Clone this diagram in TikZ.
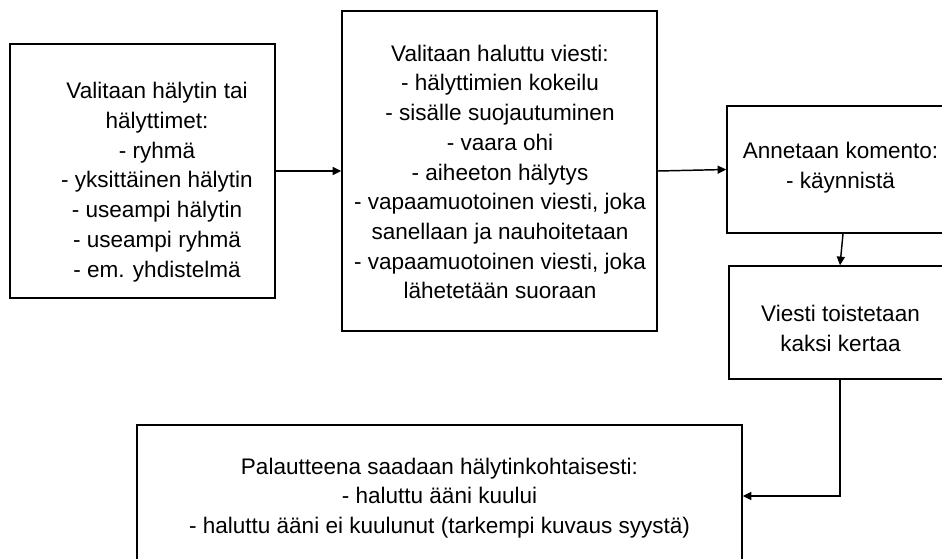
\documentclass[tikz,border=0pt]{standalone}
\usepackage{fontspec}
\setmainfont{Liberation Sans}
\usetikzlibrary{arrows.meta}
\tikzset{
  stage/.style={draw, line width=1.1pt, inner sep=0pt},
  stagetext/.style={align=center, inner sep=0pt, font=\fontsize{16.9}{22.3}\selectfont},
  flow/.style={line width=1.1pt, -{Triangle[length=6.5pt,width=6pt]}}
}
\begin{document}
\begin{tikzpicture}[x=0.75pt,y=-0.75pt]
	\useasboundingbox (0,0) rectangle (942,558);

	% frames
	\node[stage, minimum width=265*0.75pt, minimum height=254*0.75pt] (sel) at (142.5,171) {};
	\node[stage, minimum width=315*0.75pt, minimum height=320*0.75pt] (msg) at (499.5,171) {};
	\node[stage, minimum width=226*0.75pt, minimum height=127*0.75pt] (cmd) at (840,169.5) {};
	\node[stage, minimum width=222*0.75pt, minimum height=113*0.75pt] (rep) at (840,322.5) {};
	\node[stage, minimum width=605*0.75pt, minimum height=142*0.75pt] (fb) at (439.5,496) {};

	% texts
	\node[stagetext] (selText) at (157,182)
		{Valitaan hälytin tai\\hälyttimet:\\- ryhmä\\- yksittäinen hälytin\\- useampi hälytin\\- useampi ryhmä\\- em. yhdistelmä};
	\node[stagetext] (msgText) at (500,172)
		{Valitaan haluttu viesti:\\- hälyttimien kokeilu\\- sisälle suojautuminen\\- vaara ohi\\- aiheeton hälytys\\- vapaamuotoinen viesti, joka\\sanellaan ja nauhoitetaan\\- vapaamuotoinen viesti, joka\\lähetetään suoraan};
	\node[stagetext] (cmdText) at (840.5,168) {Annetaan komento:\\- käynnistä};
	\node[stagetext] (repText) at (840.5,328.5) {Viesti toistetaan\\kaksi kertaa};
	\node[stagetext] (fbText) at (439.5,498)
		{Palautteena saadaan hälytinkohtaisesti:\\- haluttu ääni kuului\\- haluttu ääni ei kuulunut (tarkempi kuvaus syystä)};

	% connectors
	\draw[flow] (sel.east) -- (msg.west);
	\draw[flow] (msg.east) -- (cmd.west);
	\draw[flow] ([xshift=2.25pt]cmd.south) -- (rep.north);
	\draw[flow] (rep.south) |- (fb.east);

\end{tikzpicture}
\end{document}
